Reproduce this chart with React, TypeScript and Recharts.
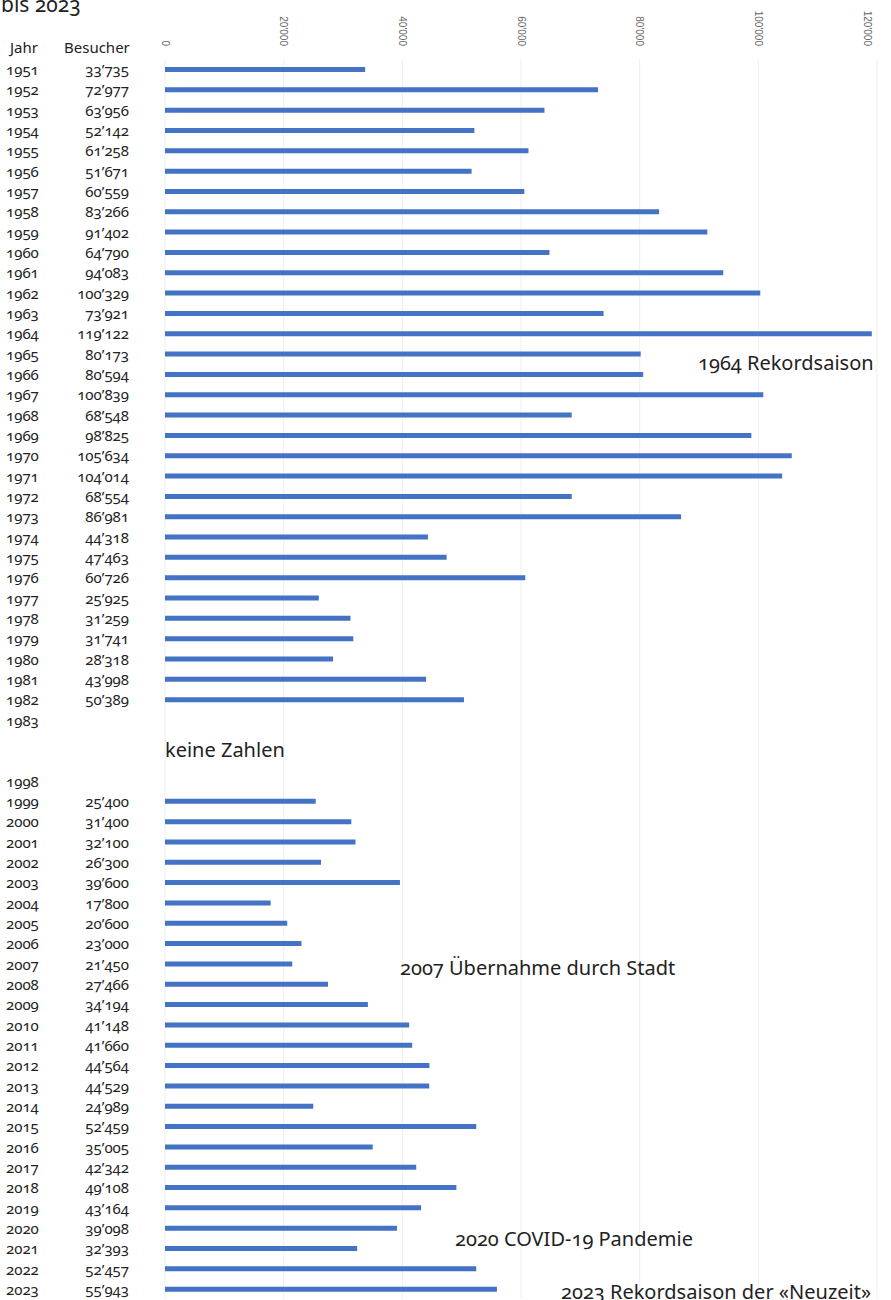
import React from "react";
import { BarChart, Bar, XAxis, YAxis, CartesianGrid } from "recharts";

// Besucherzahlen pro Saison (Lücke 1983–1998: keine Zahlen)
const years = [
  "1951", "1952", "1953", "1954", "1955", "1956", "1957", "1958", "1959", "1960",
  "1961", "1962", "1963", "1964", "1965", "1966", "1967", "1968", "1969", "1970",
  "1971", "1972", "1973", "1974", "1975", "1976", "1977", "1978", "1979", "1980",
  "1981", "1982", "1983", "gap1", "gap2", "1998", "1999", "2000", "2001", "2002",
  "2003", "2004", "2005", "2006", "2007", "2008", "2009", "2010", "2011", "2012",
  "2013", "2014", "2015", "2016", "2017", "2018", "2019", "2020", "2021", "2022",
  "2023",
];

const visitors: (number | null)[] = [
  33735, 72977, 63956, 52142, 61258, 51671, 60559, 83266, 91402, 64790,
  94083, 100329, 73921, 119122, 80173, 80594, 100839, 68548, 98825, 105634,
  104014, 68554, 86981, 44318, 47463, 60726, 25925, 31259, 31741, 28318,
  43998, 50389, null, null, null, null, 25400, 31400, 32100, 26300,
  39600, 17800, 20600, 23000, 21450, 27466, 34194, 41148, 41660, 44564,
  44529, 24989, 52459, 35005, 42342, 49108, 43164, 39098, 32393, 52457,
  55943,
];

const xTicks = [0, 20000, 40000, 60000, 80000, 100000, 120000];

const notes = [
  { text: "1964 Rekordsaison", left: 698, top: 351 },
  { text: "keine Zahlen", left: 165, top: 738 },
  { text: "2007 Übernahme durch Stadt", left: 400, top: 956 },
  { text: "2020 COVID-19 Pandemie", left: 455, top: 1227 },
  { text: "2023 Rekordsaison der «Neuzeit»", left: 561, top: 1280 },
];

const data = years.map((y, i) => ({ year: y, value: visitors[i] }));

const FONT = "'Noto Sans', 'Open Sans', sans-serif";

const fmt = (v: number) => v.toLocaleString("en-US").replace(/,/g, "’");

function XTick({ x, payload }: any) {
  return (
    <text
      x={x}
      y={46}
      transform={`rotate(90, ${x}, 46)`}
      textAnchor="end"
      dominantBaseline="central"
      fontSize={10}
      fill="#666"
      fontFamily="Arial, sans-serif"
    >
      {payload.value === 0 ? "0" : fmt(payload.value).replace("’", "'")}
    </text>
  );
}

function YTick({ y, payload }: any) {
  const year = payload.value as string;
  if (year.startsWith("gap")) return null;
  const idx = years.indexOf(year);
  const v = visitors[idx];
  return (
    <g fontFamily={FONT} fontSize={15} fill="#222" style={{ fontVariantNumeric: "oldstyle-nums" }}>
      <text x={6} y={y} dominantBaseline="central">
        {year}
      </text>
      {v != null && (
        <text x={129} y={y} textAnchor="end" dominantBaseline="central">
          {fmt(v)}
        </text>
      )}
    </g>
  );
}

export default function App() {
  return (
    <div
      style={{
        position: "absolute",
        left: 0,
        top: 0,
        width: 891,
        height: 1300,
        overflow: "hidden",
        background: "#fff",
        fontFamily: FONT,
        color: "#222",
      }}
    >
      <div
        style={{
          position: "absolute",
          left: 1,
          top: -8,
          fontSize: 21,
          lineHeight: "24px",
          fontVariantNumeric: "oldstyle-nums",
        }}
      >
        bis 2023
      </div>
      <div style={{ position: "absolute", left: 10, top: 37, fontSize: 15, lineHeight: "20px" }}>Jahr</div>
      <div style={{ position: "absolute", left: 64, top: 37, fontSize: 15, lineHeight: "20px" }}>Besucher</div>

      <BarChart
        layout="vertical"
        width={891}
        height={1300}
        data={data}
        margin={{ top: 58, right: 14, bottom: 1, left: 0 }}
        barCategoryGap={0}
      >
        <CartesianGrid horizontal={false} stroke="#efefef" />
        <XAxis
          type="number"
          orientation="top"
          domain={[0, 120000]}
          ticks={xTicks}
          tick={<XTick />}
          axisLine={false}
          tickLine={false}
          height={1}
        />
        <YAxis
          type="category"
          dataKey="year"
          width={165}
          interval={0}
          tick={<YTick />}
          axisLine={false}
          tickLine={false}
        />
        <Bar dataKey="value" fill="#4472C4" barSize={5} isAnimationActive={false} />
      </BarChart>

      {notes.map((n) => (
        <div
          key={n.text}
          style={{
            position: "absolute",
            left: n.left,
            top: n.top,
            fontSize: 20,
            lineHeight: "24px",
            whiteSpace: "nowrap",
            fontVariantNumeric: "oldstyle-nums",
          }}
        >
          {n.text}
        </div>
      ))}
    </div>
  );
}
